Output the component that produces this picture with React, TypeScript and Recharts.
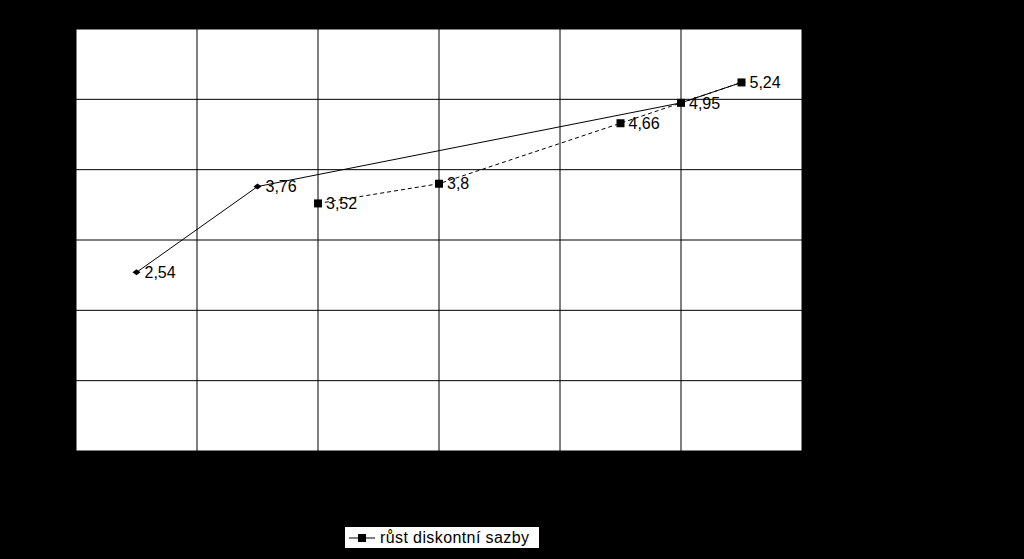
import { LineChart, Line, XAxis, YAxis, CartesianGrid, LabelList } from 'recharts';

// x positions are half-steps on a 0..12 axis, values in %
const inflaceX = [1, 3, 10, 11];
const inflaceY = [2.54, 3.76, 4.95, 5.24];
const sazbaX = [4, 6, 9, 10, 11];
const sazbaY = [3.52, 3.8, 4.66, 4.95, 5.24];
const xTicks = [0, 2, 4, 6, 8, 10, 12];
const yTicks = [0, 1, 2, 3, 4, 5, 6];

const inflaceData = inflaceX.map((x, i) => ({ x, v: inflaceY[i], lbl: i < 2 ? inflaceY[i] : null }));
const sazbaData = sazbaX.map((x, i) => ({ x, v: sazbaY[i] }));

const font = '"Liberation Sans", Arial, sans-serif';

const Diamond = (props: any) => {
  const { cx, cy } = props;
  if (cx == null || cy == null) return null;
  return <path d={`M${cx - 4},${cy} L${cx},${cy - 3} L${cx + 4},${cy} L${cx},${cy + 3} Z`} fill="#000" />;
};

const Square = (props: any) => {
  const { cx, cy } = props;
  if (cx == null || cy == null) return null;
  return <rect x={cx - 4} y={cy - 4} width={8} height={8} fill="#000" />;
};

const fmt = (v: any) => (v == null ? '' : String(v).replace('.', ','));
const lblStyle = { fontFamily: font, fontSize: 16, fill: '#000' };

export default function App() {
  return (
    <div style={{ width: 1024, height: 559, background: '#000', position: 'relative' }}>
      <style>{`body{margin:0}`}</style>
      <LineChart width={1024} height={559} margin={{ top: 29, left: 76, right: 222, bottom: 108 }}>
        <CartesianGrid stroke="#000" fill="#fff" fillOpacity={1} strokeWidth={1} />
        <XAxis type="number" dataKey="x" domain={[0, 12]} ticks={xTicks} hide />
        <YAxis type="number" domain={[0, 6]} ticks={yTicks} hide />
        <Line
          data={inflaceData}
          dataKey="v"
          stroke="#000"
          strokeWidth={1}
          dot={<Diamond />}
          isAnimationActive={false}
        >
          <LabelList dataKey="lbl" position="right" offset={8} formatter={fmt} style={lblStyle} />
        </Line>
        <Line
          data={sazbaData}
          dataKey="v"
          stroke="#000"
          strokeWidth={1}
          strokeDasharray="4 3"
          dot={<Square />}
          isAnimationActive={false}
        >
          <LabelList dataKey="v" position="right" offset={8} formatter={fmt} style={lblStyle} />
        </Line>
      </LineChart>
      <div
        style={{
          position: 'absolute', left: 345, top: 527, width: 194, height: 21, background: '#fff',
          display: 'flex', alignItems: 'center', fontFamily: font, fontSize: 16, letterSpacing: 0.4, color: '#000',
          boxSizing: 'border-box', paddingLeft: 4,
        }}
      >
        <svg width={26} height={10} style={{ marginRight: 5 }}>
          <line x1={0} y1={5} x2={26} y2={5} stroke="#000" strokeWidth={1} />
          <rect x={9} y={1} width={8} height={8} fill="#000" />
        </svg>
        růst diskontní sazby
      </div>
    </div>
  );
}
